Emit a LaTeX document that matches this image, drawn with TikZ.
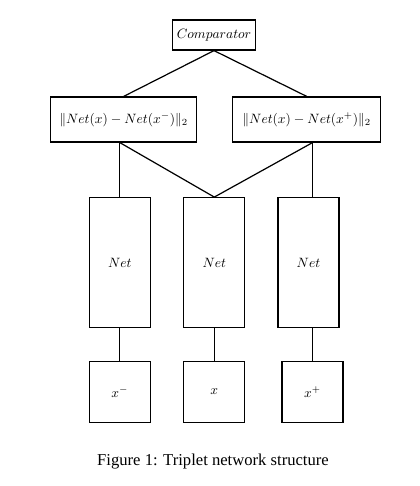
\documentclass[tikz,border=0pt]{standalone}
\usepackage{amsmath, amssymb}
\usepackage{fontspec}
\setmainfont{Liberation Serif}
\usepackage{tikz}
\usetikzlibrary{positioning, calc}

\begin{document}
\begin{tikzpicture}[x=0.74pt,y=0.74pt,
  box/.style={draw,line width=0.9pt,inner sep=2pt,font=\normalsize,align=center},
  netbox/.style={box,minimum width=45.1pt,minimum height=96.2pt},
  inbox/.style={box,minimum width=45.1pt,minimum height=45.1pt},
  link/.style={line width=0.9pt}]
  \useasboundingbox (0,0) rectangle (420,486);
  \node[box,minimum width=61.4pt,minimum height=22.2pt](comp) at (214,451){$Comparator$};
  \node[box,minimum width=108pt,minimum height=33.3pt](dneg) at (123.7,366.5){$\|Net(x)-Net(x^-)\|_2$};
  \node[box,minimum width=109.5pt,minimum height=33.3pt](dpos) at (306.7,366.5){$\|Net(x)-Net(x^+)\|_2$};
  \node[netbox](netm) at (214.3,223.3){$Net$};
  \node[netbox,left=23.9pt of netm](netn){$Net$};
  \node[netbox,right=23.7pt of netm](netp){$Net$};
  \node[inbox,below=24pt of netm](xm){$x$};
  \node[inbox,below=24pt of netn](xn){$x^-$};
  \node[inbox,below=24pt of netp,xshift=3pt](xp){$x^+$};
  \node[font=\fontsize{12.3}{14}\selectfont](cap) at (213,24){Figure 1: Triplet network structure};
  \coordinate (lb) at (dneg.south -| netn.north);
  \coordinate (rb) at (dpos.south -| xp.north);
  \draw[link](comp.south)--(dneg.north);\draw[link](comp.south)--(dpos.north);
  \draw[link](lb)--(netn.north);\draw[link](lb)--(netm.north);
  \draw[link](rb)--(netm.north);\draw[link](rb)--(rb |- netp.north);
  \draw[link](netn.south)--(xn.north);\draw[link](netm.south)--(xm.north);
  \draw[link](xp.north |- netp.south)--(xp.north);
\end{tikzpicture}
\end{document}
